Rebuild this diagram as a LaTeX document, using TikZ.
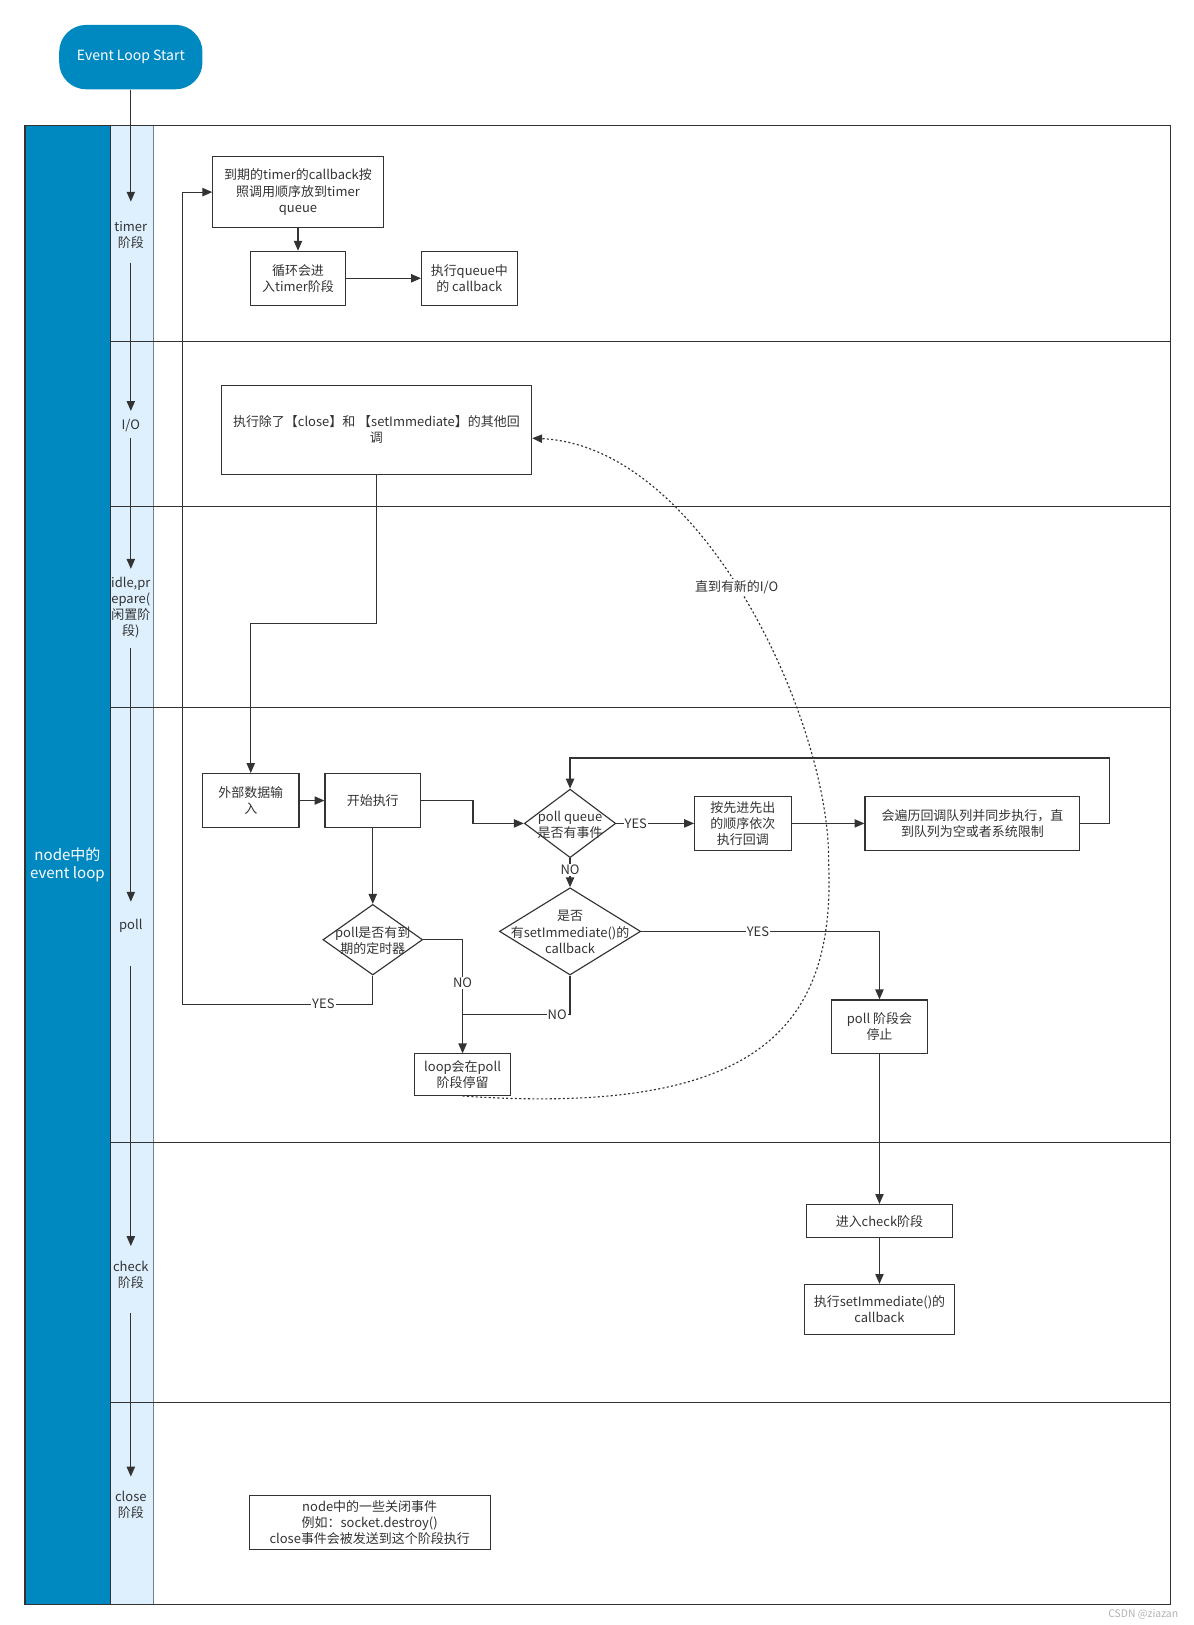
\documentclass[tikz,border=0pt]{standalone}
\usepackage{fontspec}
\setmainfont{Noto Sans CJK SC}
\usetikzlibrary{shapes.geometric,arrows.meta}
\definecolor{loopblue}{RGB}{0,136,192}
\definecolor{laneblue}{RGB}{222,240,254}
\definecolor{ink}{RGB}{51,51,51}
\definecolor{rim}{RGB}{112,128,144}
\tikzset{
  every node/.style={font=\fontsize{12.5}{15.5}\selectfont,text=ink,align=center},
  box/.style={draw=ink,line width=1.1pt,inner sep=0pt},
  decide/.style={diamond,draw=ink,line width=1.1pt,inner sep=0pt},
  flow/.style={draw=ink,line width=1.1pt,->},
  dots/.style={draw=ink,line width=1.1pt,dash pattern=on 2pt off 2.2pt,->},
  lbl/.style={fill=white,inner sep=1pt},
  lanetag/.style={inner sep=0pt},
  startcap/.style={fill=loopblue,text=white,rounded corners=26pt,minimum width=138,minimum height=62,font=\fontsize{13.5}{16}\selectfont}
}
\begin{document}
\begin{tikzpicture}[x=1pt,y=-1pt,>={Triangle[length=9.5pt,width=8pt]}]
  \useasboundingbox (0,0) rectangle (1149,1565);
  \fill[loopblue] (24,121) rectangle (106,1545);
  \fill[laneblue] (106,121) rectangle (148,1545);
  \draw[rim,line width=1pt] (148,121) -- (148,1545);
  \foreach \y in {329,488,681,1100,1351}
    \draw[ink,line width=1pt] (106,\y) -- (1127,\y);
  \draw[ink,line width=1pt] (106,121) -- (106,1545);
  \draw[ink,line width=1.2pt] (24,121) rectangle (1127,1545);

  \node[text=white,font=\fontsize{14.5}{18}\selectfont] (band) at (65,833) {node中的\\event loop};
  \node[startcap] (start) at (126,55) {Event Loop Start};

  \node[lanetag] (lt) at (126,226.5) {timer\\阶段};
  \node[lanetag] (lio) at (126,410) {I/O};
  \node[lanetag] (lidle) at (126,585.5) {idle,pr\\epare(\\闲置阶\\段)};
  \node[lanetag] (lpoll) at (126,892) {poll};
  \node[lanetag] (lchk) at (126,1227.5) {check\\阶段};
  \node[lanetag] (lcls) at (126,1449.5) {close\\阶段};

  \draw[flow,shorten >=19pt] (start.south) -- (lt.north);
  \draw[flow,shorten <=13pt,shorten >=8pt] (lt.south) -- (lio.north);
  \draw[flow,shorten <=6pt,shorten >=8pt] (lio.south) -- (lidle.north);
  \draw[flow,shorten <=9pt,shorten >=17pt] (lidle.south) -- (lpoll.north);
  \draw[flow,shorten <=32pt,shorten >=14pt] (lpoll.south) -- (lchk.north);
  \draw[flow,shorten <=24pt,shorten >=14pt] (lchk.south) -- (lcls.north);

  \node[box,minimum width=164,minimum height=68] (tq) at (287,185) {到期的timer的callback按\\照调用顺序放到timer\\queue};
  \node[box,minimum width=92,minimum height=52] (enter) at (287,268) {循环会进\\入timer阶段};
  \node[box,minimum width=92,minimum height=52] (run) at (452,268) {执行queue中\\的 callback};

  \node[box,minimum width=299,minimum height=86] (io) at (362.5,414) {执行除了【close】和 【setImmediate】的其他回\\调};

  \node[box,minimum width=93,minimum height=52] (inp) at (241.5,771) {外部数据输\\入};
  \node[box,minimum width=92,minimum height=52] (go) at (359,771) {开始执行};
  \node[decide,minimum width=88,minimum height=66] (dq) at (549,793) {};
  \node[inner sep=0pt] (dqt) at (549,794) {poll queue\\是否有事件};
  \node[box,minimum width=93,minimum height=52] (fifo) at (715.5,793) {按先进先出\\的顺序依次\\执行回调};
  \node[box,minimum width=207,minimum height=52] (walk) at (936.5,793) {会遍历回调队列并同步执行，直\\到队列为空或者系统限制};
  \node[decide,minimum width=136,minimum height=84] (ds) at (549,897) {};
  \node[inner sep=0pt] (dst) at (549,897.5) {是否\\有setImmediate()的\\callback};
  \node[decide,minimum width=96,minimum height=68] (dt) at (359,905) {};
  \node[inner sep=0pt] (dtt) at (359,905.5) {poll是否有到\\期的定时器};
  \node[box,minimum width=93,minimum height=40] (stay) at (445.5,1035) {loop会在poll\\阶段停留};
  \node[box,minimum width=93,minimum height=52] (stop) at (847,989) {poll 阶段会\\停止};

  \node[box,minimum width=140,minimum height=32] (chk) at (847,1176) {进入check阶段};
  \node[box,minimum width=144,minimum height=48] (cb) at (847,1261) {执行setImmediate()的\\callback};

  \node[box,minimum width=232,minimum height=52] (cls) at (356,1466) {node中的一些关闭事件\\例如：socket.destroy()\\close事件会被发送到这个阶段执行};

  \node[text=gray!60,font=\fontsize{10}{10}\selectfont] (mark) at (1101,1555) {CSDN @ziazan};

  \coordinate (back) at (176,967);
  \coordinate (join) at (445.5,977);

  \draw[flow] (tq) -- (enter);
  \draw[flow] (enter) -- (run);
  \draw[flow] (io.south) -- ++(0,143) -| (inp.north);
  \draw[flow] (inp) -- (go);
  \draw[flow] (go.east) -- ++(50,0) |- (dq.west);
  \draw[flow] (dq.east) -- node[lbl,pos=0.25] {YES} (fifo.west);
  \draw[flow] (fifo) -- (walk);
  \draw[flow] (walk.east) -- ++(28,0) -- ++(0,-63) -| (dq.north);
  \draw[flow] (dq.south) -- node[lbl,pos=0.41] {NO} (ds.north);
  \draw[flow] (go) -- (dt);
  \draw[flow] (dt.south) |- node[lbl,pos=0.63] {YES} (back) |- (tq.west);
  \draw[flow] (dt.east) -| node[lbl,pos=0.69] {NO} (stay.north);
  \draw[draw=ink,line width=1.1pt] (ds.south) |- node[lbl,pos=0.56] {NO} (join);
  \draw[flow] (ds.east) -| node[lbl,pos=0.245] {YES} (stop.north);
  \draw[flow] (stop) -- (chk);
  \draw[flow] (chk) -- (cb);
  \draw[dots] (stay.south) .. controls (730,1075) and (805,990) .. (798,830)
    .. controls (800,700) and (680,430) .. ([yshift=-8pt]io.east) node[lbl,pos=0.53] {直到有新的I/O};
\end{tikzpicture}
\end{document}
